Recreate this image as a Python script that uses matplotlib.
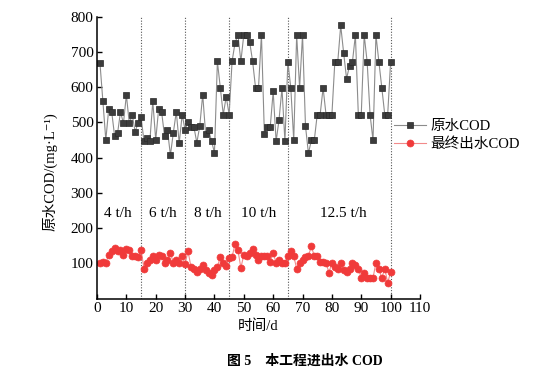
import matplotlib
matplotlib.use("Agg")
import matplotlib.pyplot as plt

plt.rcParams["font.family"] = ["Liberation Serif", "Noto Sans CJK SC", "DejaVu Sans"]

days = list(range(1, 101))

# 原水COD, mg/L
raw_cod = [
    669, 560, 450, 539, 530, 461, 469, 530, 497, 578, 497, 521, 473, 499, 516,
    446, 457, 447, 560, 450, 539, 530, 461, 478, 407, 471, 530, 441, 522, 478,
    501, 487, 487, 442, 490, 579, 466, 478, 447, 414,
    673, 598, 522, 573, 522, 673, 725, 749, 673, 749, 749, 728, 673, 598, 598, 749,
    468, 487, 487, 588, 446, 508, 597, 446, 672,
    598, 449, 748, 598, 748, 490, 412, 449, 449,
    522, 522, 598, 522, 522, 522, 672, 672, 775, 697, 624, 661, 672, 748, 522, 522,
    748, 672, 522, 449, 748, 672, 598, 522, 522, 672,
]

# 最终出水COD, mg/L
out_cod = [
    102, 105, 102, 124, 134, 144, 134, 137, 124, 141, 137, 122, 120, 118, 139,
    85, 102, 110, 122, 110, 124, 120, 102, 110, 129, 102, 110, 102, 120, 98,
    134, 90, 85, 75, 85, 95, 80, 73, 66, 80,
    90, 118, 102, 92, 115, 118, 154, 137, 87, 124,
    120, 129, 141, 124, 110, 120, 120, 120, 105, 129,
    102, 110, 102, 102, 120, 134, 120, 85, 102, 110,
    118, 120, 149, 120, 120, 105, 105, 102, 73, 102,
    90, 85, 102, 82, 75, 85, 102, 95, 85, 58,
    73, 58, 58, 58, 102, 85, 58, 85, 45, 75,
]

stage_bounds = [15, 30, 45, 65, 100]
stage_labels = ["4 t/h", "6 t/h", "8 t/h", "10 t/h", "12.5 t/h"]
stage_label_x = [7.2, 22.5, 37.9, 55.1, 84]

fig = plt.figure(figsize=(5.49, 3.79), dpi=100)
ax = fig.add_axes([0.1767, 0.2124, 0.5883, 0.7436])

ax.plot(days, raw_cod, color="#8c8c8c", lw=0.8, marker="s", ms=4.6,
        mfc="#3c3c3c", mec="#2a2a2a", mew=0.5, label="原水COD")
ax.plot(days, out_cod, color="#f28a8a", lw=0.8, marker="o", ms=5.0,
        mfc="#f03a3a", mec="#f03a3a", mew=0.5, label="最终出水COD")

for xb in stage_bounds:
    ax.axvline(xb, color="#555555", lw=0.8, ls=(0, (1, 1.5)), zorder=0)

for x, s in zip(stage_label_x, stage_labels):
    ax.text(x, 242, s, ha="center", va="center", fontsize=11)

ax.set_xlim(0, 110)
ax.set_ylim(0, 800)
ax.set_xticks(range(0, 111, 10))
ax.set_yticks(range(100, 801, 100))
ax.tick_params(direction="in", length=3.5, width=1, labelsize=11, pad=2.5)
ax.spines["right"].set_visible(False)
ax.spines["top"].set_visible(False)
ax.spines["left"].set_linewidth(1.1)
ax.spines["bottom"].set_linewidth(1.1)

ax.set_xlabel("时间/d", fontsize=10.5, labelpad=3)
fig.text(0.090, 0.546, "原水COD/(mg·L⁻¹)", rotation=90, ha="center",
         va="center", fontsize=10.5)

ax.legend(loc="upper left", bbox_to_anchor=(0.718, 0.684),
          bbox_transform=fig.transFigure, frameon=False, fontsize=10.5,
          handlelength=2.2, handletextpad=0.3, labelspacing=0.3,
          borderpad=0, borderaxespad=0)

fig.text(0.555, 0.048, "图 5    本工程进出水 COD", ha="center", va="center",
         fontsize=10, fontweight="bold")

fig.savefig("out.png", dpi=100)
